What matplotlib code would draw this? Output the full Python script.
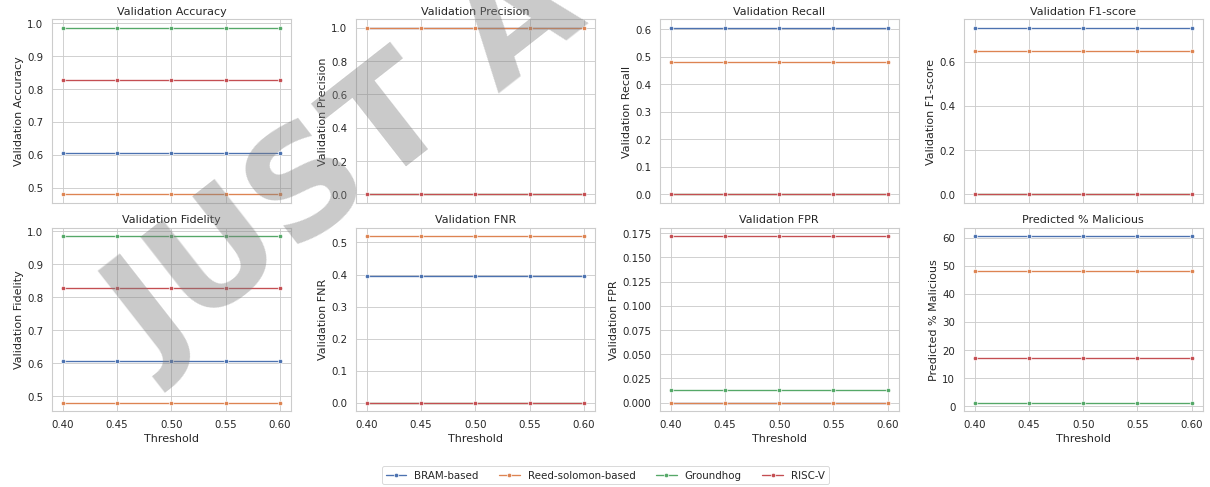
import matplotlib
matplotlib.use("Agg")
import matplotlib.pyplot as plt
import seaborn as sns
import numpy as np

thresholds = [0.40, 0.45, 0.50, 0.55, 0.60]
models = ["BRAM-based", "Reed-solomon-based", "Groundhog", "RISC-V"]

metric_titles = ["Validation Accuracy", "Validation Precision", "Validation Recall",
                 "Validation F1-score", "Validation Fidelity", "Validation FNR",
                 "Validation FPR", "Predicted % Malicious"]

# constant value per model across thresholds (BRAM, Reed-solomon, Groundhog, RISC-V)
accuracy = [0.605, 0.480, 0.986, 0.828]
precision = [1.0, 1.0, 0.0, 0.0]
recall = [0.605, 0.480, 0.0, 0.0]
f1_score = [0.754, 0.649, 0.0, 0.0]
fidelity = [0.605, 0.480, 0.986, 0.828]
fnr = [0.395, 0.520, 0.0, 0.0]
fpr = [0.0, 0.0, 0.0135, 0.172]
pred_malicious = [60.5, 48.0, 1.35, 17.2]

metric_values = [accuracy, precision, recall, f1_score, fidelity, fnr, fpr, pred_malicious]

sns.set_theme(style="whitegrid", palette="deep", context="notebook", font_scale=1.04)
colors = sns.color_palette("deep")[:4]

DPI = 64.5
fig, axes = plt.subplots(2, 4, figsize=(1210.5 / DPI, 487.5 / DPI), dpi=DPI)
fig.subplots_adjust(left=0.043, right=0.9934, top=0.959, bottom=0.156,
                     wspace=0.273, hspace=0.137)

handles = []
for idx, (ax, title, vals) in enumerate(zip(axes.flat, metric_titles, metric_values)):
    for m, (name, v) in enumerate(zip(models, vals)):
        ys = [v] * len(thresholds)
        ln, = ax.plot(thresholds, ys, color=colors[m], marker="o", markersize=5,
                      markeredgecolor="white", markeredgewidth=0.75, linewidth=1.5,
                      label=name)
        if idx == 0:
            handles.append(ln)
    ax.set_title(title)
    ax.set_ylabel(title)
    ax.set_xticks(thresholds)
    if idx >= 4:
        ax.set_xlabel("Threshold")
        ax.set_xticklabels([f"{t:.2f}" for t in thresholds])
    else:
        ax.set_xticklabels([])

fig.legend(handles, models, loc="lower center", bbox_to_anchor=(0.5, -0.005),
           ncol=4, frameon=True)

fig.text(0.2876, 0.659, "JUST A", fontsize=167, fontweight="bold", color="gray",
         alpha=0.42, rotation=38, ha="center", va="center", rotation_mode="anchor",
         zorder=100)

fig.savefig("out.png", dpi=DPI)
